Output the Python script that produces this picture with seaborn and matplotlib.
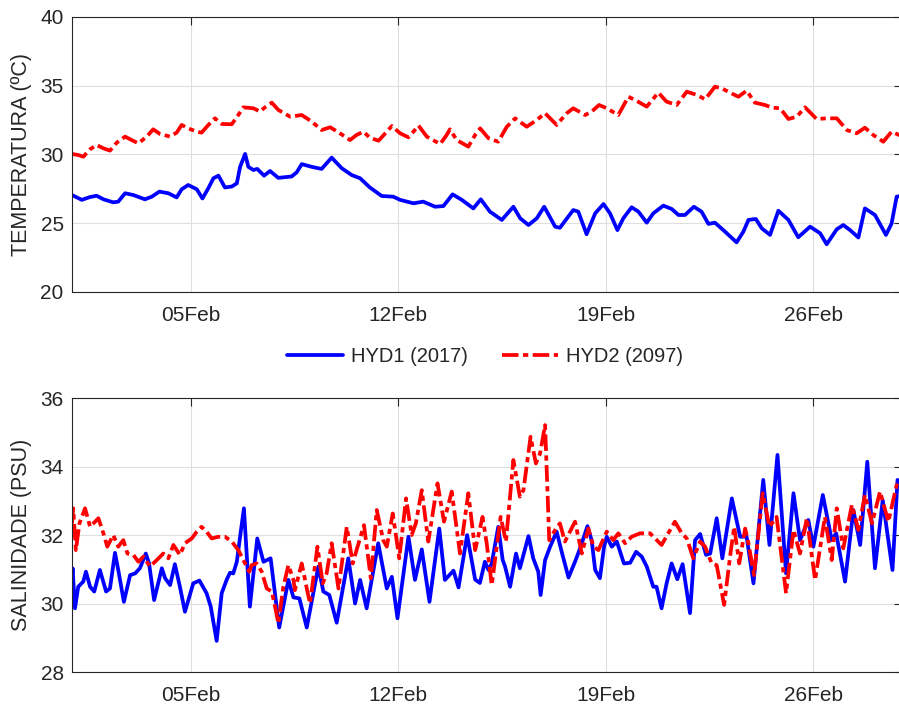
import pandas as pd
import matplotlib
matplotlib.use('Agg')
import matplotlib.pyplot as plt
import matplotlib.dates as mdates
import seaborn as sns

# tiempo en dias desde el 01-Feb-2017
t_temp_hyd1 = [0.00, 0.33, 0.60, 0.83, 1.06, 1.39, 1.56, 1.79, 2.07, 2.46,
               2.69, 2.95, 3.25, 3.53, 3.70, 3.92, 4.21, 4.40, 4.60, 4.77,
               4.94, 5.16, 5.39, 5.56, 5.67, 5.84, 5.95, 6.12, 6.25, 6.48,
               6.68, 6.96, 7.41, 7.58, 7.75, 8.09, 8.42, 8.76, 9.10, 9.44,
               9.72, 10.05, 10.45, 10.84, 11.07, 11.52, 11.85, 12.25, 12.53, 12.84,
               13.15, 13.54, 13.79, 14.10, 14.50, 14.89, 15.12, 15.40, 15.68, 15.93,
               16.30, 16.46, 16.91, 17.08, 17.36, 17.65, 17.93, 18.15, 18.40, 18.60,
               18.88, 19.11, 19.39, 19.61, 19.95, 20.23, 20.46, 20.68, 20.98, 21.24,
               21.47, 21.69, 22.03, 22.42, 22.65, 22.82, 23.07, 23.27, 23.55, 23.83,
               24.17, 24.50, 24.90, 25.24, 25.46, 25.80, 26.02, 26.25, 26.53, 26.75,
               27.09, 27.46, 27.65, 27.82, 28.00]
temp_hyd1 = [27.05, 26.70, 26.90, 27.00, 26.74, 26.52, 26.57, 27.18, 27.05, 26.74,
             26.93, 27.30, 27.18, 26.88, 27.47, 27.78, 27.47, 26.80, 27.55, 28.27,
             28.46, 27.60, 27.67, 27.90, 29.10, 30.04, 29.10, 28.87, 28.95, 28.46,
             28.80, 28.30, 28.40, 28.70, 29.30, 29.10, 28.95, 29.77, 29.00, 28.50,
             28.27, 27.60, 26.98, 26.93, 26.70, 26.45, 26.57, 26.20, 26.25, 27.10,
             26.70, 26.08, 26.74, 25.84, 25.24, 26.20, 25.36, 24.87, 25.36, 26.20,
             24.75, 24.67, 25.96, 25.84, 24.20, 25.72, 26.40, 25.72, 24.50, 25.36,
             26.16, 25.84, 25.04, 25.72, 26.28, 26.04, 25.60, 25.60, 26.20, 25.84,
             24.95, 25.04, 24.39, 23.61, 24.39, 25.24, 25.31, 24.63, 24.15, 25.91,
             25.24, 23.98, 24.75, 24.27, 23.47, 24.56, 24.87, 24.50, 23.96, 26.08,
             25.60, 24.15, 24.98, 26.93, 27.00]

t_temp_hyd2 = [0.00, 0.21, 0.38, 0.61, 0.83, 1.06, 1.28, 1.51, 1.79, 2.01,
               2.24, 2.52, 2.74, 2.97, 3.31, 3.53, 3.70, 3.92, 4.21, 4.37,
               4.60, 4.82, 5.05, 5.39, 5.61, 5.78, 6.12, 6.34, 6.51, 6.74,
               6.96, 7.36, 7.75, 8.09, 8.42, 8.71, 9.04, 9.38, 9.60, 9.83,
               10.05, 10.34, 10.62, 10.79, 11.07, 11.35, 11.52, 11.69, 11.97, 12.42,
               12.64, 12.75, 12.98, 13.37, 13.60, 13.77, 14.05, 14.38, 14.67, 14.95,
               15.34, 15.68, 15.96, 16.35, 16.69, 16.91, 17.31, 17.53, 17.78, 18.04,
               18.43, 18.77, 19.00, 19.39, 19.78, 20.06, 20.40, 20.74, 21.08, 21.36,
               21.69, 21.92, 22.20, 22.48, 22.76, 23.04, 23.38, 23.61, 23.89, 24.17,
               24.45, 24.73, 25.12, 25.46, 25.80, 26.14, 26.47, 26.75, 27.03, 27.37,
               27.65, 27.90, 28.00]
temp_hyd2 = [30.04, 29.96, 29.84, 30.38, 30.69, 30.45, 30.28, 30.86, 31.30, 31.05,
             30.81, 31.30, 31.83, 31.49, 31.30, 31.59, 32.15, 31.90, 31.66, 31.59,
             32.15, 32.63, 32.22, 32.20, 32.87, 33.43, 33.36, 33.12, 33.43, 33.77,
             33.24, 32.75, 32.87, 32.39, 31.78, 31.98, 31.54, 31.05, 31.42, 31.66,
             31.22, 31.00, 31.66, 32.07, 31.54, 31.25, 31.66, 32.10, 31.30, 30.76,
             31.42, 31.83, 31.05, 30.57, 31.42, 31.90, 31.18, 30.93, 32.02, 32.63,
             32.02, 32.51, 33.00, 32.15, 33.00, 33.36, 32.87, 33.12, 33.60, 33.36,
             32.87, 34.20, 33.96, 33.48, 34.50, 33.84, 33.60, 34.57, 34.33, 34.01,
             34.93, 34.81, 34.50, 34.20, 34.64, 33.77, 33.60, 33.41, 33.36, 32.58,
             32.75, 33.43, 32.58, 32.63, 32.63, 31.78, 31.54, 31.95, 31.42, 30.93,
             31.66, 31.42, 31.40]

t_sal_hyd1 = [0.00, 0.02, 0.10, 0.21, 0.38, 0.47, 0.61, 0.75, 0.94, 1.15,
              1.28, 1.45, 1.56, 1.75, 1.96, 2.13, 2.29, 2.49, 2.60, 2.77,
              3.03, 3.14, 3.31, 3.47, 3.64, 3.81, 4.09, 4.30, 4.54, 4.68,
              4.88, 5.05, 5.22, 5.33, 5.44, 5.56, 5.67, 5.80, 6.00, 6.25,
              6.46, 6.70, 6.99, 7.30, 7.47, 7.67, 7.92, 8.31, 8.48, 8.68,
              8.93, 9.32, 9.55, 9.72, 9.94, 10.33, 10.62, 10.79, 10.98, 11.35,
              11.57, 11.80, 12.06, 12.39, 12.58, 12.87, 13.04, 13.33, 13.60, 13.76,
              13.93, 14.05, 14.16, 14.38, 14.53, 14.61, 14.78, 14.98, 15.11, 15.40,
              15.56, 15.73, 15.81, 15.96, 16.13, 16.35, 16.52, 16.75, 16.97, 17.14,
              17.39, 17.53, 17.65, 17.81, 17.95, 18.04, 18.21, 18.38, 18.62, 18.83,
              19.03, 19.22, 19.39, 19.61, 19.72, 19.89, 20.06, 20.23, 20.42, 20.60,
              20.85, 21.02, 21.19, 21.39, 21.53, 21.75, 21.94, 22.26, 22.54, 22.76,
              22.99, 23.32, 23.53, 23.80, 24.09, 24.34, 24.56, 24.84, 25.01, 25.33,
              25.63, 25.78, 26.08, 26.36, 26.59, 26.83, 27.09, 27.35, 27.68, 27.85,
              28.00]
sal_hyd1 = [30.78, 31.03, 29.86, 30.49, 30.64, 30.93, 30.49, 30.35, 30.98, 30.35,
            30.44, 31.48, 30.98, 30.05, 30.83, 30.88, 31.03, 31.46, 31.17, 30.10,
            31.03, 30.74, 30.54, 31.15, 30.49, 29.76, 30.59, 30.67, 30.30, 29.91,
            28.91, 30.30, 30.70, 30.90, 30.88, 31.22, 31.95, 32.78, 29.91, 31.90,
            31.22, 31.32, 29.30, 30.69, 30.18, 30.15, 29.30, 31.08, 30.35, 30.25,
            29.44, 31.32, 30.00, 30.69, 29.86, 31.76, 30.44, 30.78, 29.57, 31.95,
            30.69, 31.58, 30.05, 32.19, 30.69, 30.96, 30.47, 32.00, 30.70, 30.60,
            31.22, 30.98, 31.17, 32.24, 31.27, 31.08, 30.49, 31.46, 31.03, 31.97,
            31.32, 30.93, 30.25, 31.27, 31.66, 32.10, 31.51, 30.76, 31.22, 31.61,
            32.26, 31.85, 30.98, 30.74, 31.66, 31.95, 31.66, 31.81, 31.17, 31.19,
            31.51, 31.37, 31.08, 30.49, 30.49, 29.86, 30.59, 31.17, 30.71, 31.15,
            29.72, 31.85, 32.03, 31.42, 31.46, 32.49, 31.32, 33.07, 31.95, 31.95,
            30.59, 33.61, 31.71, 34.34, 30.88, 33.22, 31.85, 32.44, 31.66, 33.17,
            31.85, 32.05, 30.64, 32.73, 31.71, 34.14, 31.03, 33.02, 30.98, 33.61,
            33.50]

t_sal_hyd2 = [0.00, 0.04, 0.13, 0.25, 0.44, 0.61, 0.72, 0.89, 1.06, 1.19,
              1.39, 1.56, 1.73, 1.87, 2.07, 2.24, 2.41, 2.63, 2.86, 3.08,
              3.25, 3.42, 3.64, 3.81, 4.04, 4.21, 4.37, 4.54, 4.71, 4.94,
              5.16, 5.39, 5.61, 5.84, 5.98, 6.06, 6.23, 6.40, 6.57, 6.74,
              6.85, 6.96, 7.13, 7.30, 7.47, 7.52, 7.75, 7.92, 8.03, 8.28,
              8.46, 8.59, 8.76, 8.99, 9.27, 9.47, 9.60, 9.85, 10.08, 10.28,
              10.50, 10.62, 10.82, 11.04, 11.27, 11.46, 11.60, 11.80, 12.02, 12.33,
              12.55, 12.81, 13.09, 13.37, 13.60, 13.85, 13.99, 14.16, 14.46, 14.64,
              14.89, 15.11, 15.23, 15.47, 15.65, 15.79, 15.96, 16.10, 16.30, 16.46,
              16.63, 16.97, 17.20, 17.42, 17.59, 17.76, 18.04, 18.26, 18.43, 18.66,
              18.88, 19.16, 19.50, 19.89, 20.18, 20.34, 20.57, 20.74, 20.96, 21.19,
              21.36, 21.58, 21.75, 22.00, 22.20, 22.34, 22.51, 22.71, 22.82, 23.01,
              23.30, 23.53, 23.77, 24.09, 24.34, 24.56, 24.79, 25.07, 25.40, 25.63,
              25.80, 26.02, 26.31, 26.53, 26.75, 26.99, 27.26, 27.54, 27.82, 28.00]
sal_hyd2 = [32.34, 32.78, 31.56, 32.34, 32.78, 32.24, 32.34, 32.49, 32.05, 31.66,
            32.00, 31.66, 31.85, 31.46, 31.42, 31.22, 31.37, 31.08, 31.27, 31.46,
            31.32, 31.71, 31.42, 31.76, 31.90, 32.10, 32.24, 32.10, 31.90, 31.95,
            31.95, 31.81, 31.56, 31.17, 30.93, 31.12, 31.17, 30.93, 30.44, 30.35,
            29.91, 29.42, 30.49, 31.12, 30.69, 30.39, 31.17, 30.44, 30.00, 31.66,
            30.59, 30.88, 31.76, 30.44, 32.24, 31.17, 31.56, 32.29, 30.74, 32.73,
            31.85, 31.66, 32.63, 31.32, 33.07, 32.00, 32.34, 33.31, 31.81, 33.51,
            32.39, 33.27, 31.46, 33.22, 31.56, 32.53, 31.76, 30.54, 32.53, 31.81,
            34.19, 33.12, 33.31, 34.87, 34.09, 34.38, 35.21, 31.85, 32.15, 32.34,
            31.81, 32.39, 31.46, 32.19, 31.66, 31.56, 32.10, 31.85, 32.05, 31.76,
            31.95, 32.05, 32.05, 31.71, 32.15, 32.39, 32.05, 31.90, 31.32, 31.81,
            31.66, 31.17, 31.12, 29.96, 31.37, 32.24, 31.17, 32.19, 31.76, 30.83,
            33.22, 32.24, 32.53, 30.30, 32.15, 31.46, 32.49, 30.69, 32.53, 31.27,
            32.78, 31.61, 32.88, 32.15, 33.17, 32.34, 33.27, 32.39, 33.46, 33.30]

labels = ['HYD1 (2017)', 'HYD2 (2097)']
inicio = pd.Timestamp('2017-02-01')
fin = pd.Timestamp('2017-03-01')
gris = '#262626'


def to_frame(t, v):
    return pd.DataFrame({'fecha': inicio + pd.to_timedelta(t, unit='D'), 'valor': v})


def main():
    sns.set_style('white')
    plt.rcParams['font.family'] = ['Liberation Sans', 'DejaVu Sans']

    fig = plt.figure(figsize=(8.99, 7.08), dpi=100)
    ax1 = fig.add_axes([0.0801, 0.5876, 0.9232, 0.3884])
    ax2 = fig.add_axes([0.0801, 0.0508, 0.9232, 0.3870])

    paneles = [
        (ax1, t_temp_hyd1, temp_hyd1, t_temp_hyd2, temp_hyd2, (20, 40), [20, 25, 30, 35, 40], 'TEMPERATURA (ºC)'),
        (ax2, t_sal_hyd1, sal_hyd1, t_sal_hyd2, sal_hyd2, (28, 36), [28, 30, 32, 34, 36], 'SALINIDADE (PSU)'),
    ]

    for ax, t1, v1, t2, v2, ylim, yticks, ylabel in paneles:
        sns.lineplot(data=to_frame(t1, v1), x='fecha', y='valor', ax=ax,
                     color='#0000FF', lw=2.7, label=labels[0], legend=False,
                     solid_joinstyle='round', solid_capstyle='round')
        sns.lineplot(data=to_frame(t2, v2), x='fecha', y='valor', ax=ax,
                     color='#FF0000', lw=2.7, linestyle=(0, (4.4, 1.2, 1.4, 1.2)),
                     label=labels[1], legend=False, dash_joinstyle='round')

        ax.set_xlim(inicio, fin)
        ax.set_ylim(*ylim)
        ax.set_yticks(yticks)
        ax.xaxis.set_major_locator(mdates.DayLocator(bymonthday=[5, 12, 19, 26]))
        ax.xaxis.set_major_formatter(mdates.DateFormatter('%d%b'))
        ax.set_xlabel('')
        ax.set_ylabel(ylabel, fontsize=15.5, color=gris, labelpad=6)
        ax.grid(True, color='#dedede', lw=0.8)
        ax.tick_params(direction='in', length=5.5, width=0.8, top=True, right=True,
                       labelsize=15, colors=gris)
        ax.tick_params(axis='x', pad=10)
        ax.tick_params(axis='y', pad=6)
        for s in ax.spines.values():
            s.set_color(gris)
            s.set_linewidth(0.8)

    handles, labs = ax1.get_legend_handles_labels()
    fig.legend(handles, labs, loc='center', bbox_to_anchor=(485 / 899, 1 - 357 / 708),
               ncol=2, frameon=False, fontsize=14.5, handlelength=2.8,
               handletextpad=0.4, columnspacing=1.7)

    fig.savefig('out.png', dpi=100)


if __name__ == "__main__":
    main()
